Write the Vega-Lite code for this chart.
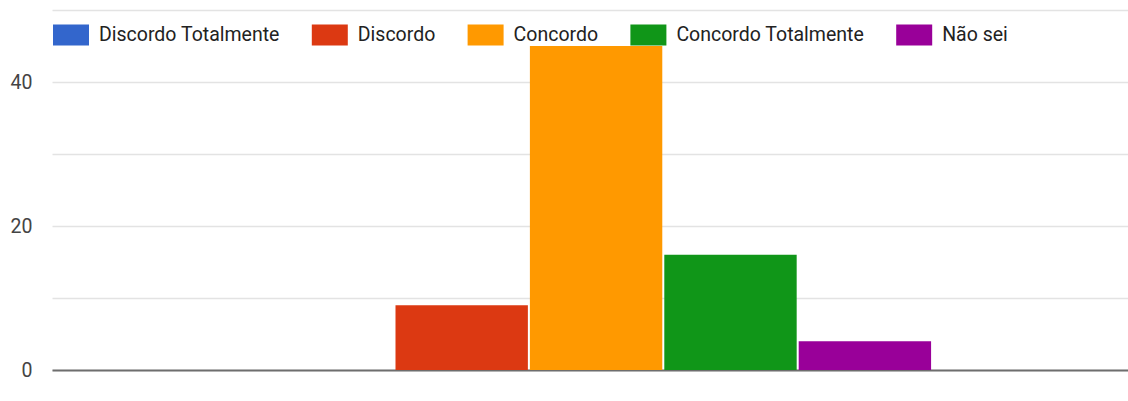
{
  "$schema": "https://vega.github.io/schema/vega-lite/v6.json",
  "autosize": {"type": "none"},
  "width": 1076,
  "height": 360,
  "padding": {"left": 52, "top": 10, "right": 0, "bottom": 31},
  "background": "white",
  "config": {
    "view": {"stroke": null},
    "font": "Roboto"
  },
  "data": {
    "values": [
      {"grupo": "total", "resposta": "Discordo Totalmente", "contagem": 0},
      {"grupo": "total", "resposta": "Discordo", "contagem": 9},
      {"grupo": "total", "resposta": "Concordo", "contagem": 45},
      {"grupo": "total", "resposta": "Concordo Totalmente", "contagem": 16},
      {"grupo": "total", "resposta": "Não sei", "contagem": 4}
    ]
  },
  "mark": {"type": "bar"},
  "encoding": {
    "x": {
      "field": "grupo",
      "type": "nominal",
      "scale": {"paddingInner": 0, "paddingOuter": 0.303, "align": 0.515},
      "axis": {
        "title": null,
        "labels": false,
        "ticks": false,
        "domainColor": "#6e6e6e",
        "domainWidth": 2,
        "grid": false
      }
    },
    "xOffset": {
      "field": "resposta",
      "type": "nominal",
      "sort": null,
      "scale": {"paddingInner": 0.015, "paddingOuter": 0}
    },
    "y": {
      "field": "contagem",
      "type": "quantitative",
      "scale": {"domain": [0, 50], "nice": false},
      "axis": {
        "title": null,
        "values": [0, 10, 20, 30, 40, 50],
        "labelExpr": "datum.value % 20 == 0 && datum.value < 50 ? datum.label : ''",
        "domain": false,
        "ticks": false,
        "labelPadding": 20,
        "labelFontSize": 19.5,
        "labelColor": "#444444",
        "gridColor": "#e3e3e3",
        "gridWidth": 1.5
      }
    },
    "color": {
      "field": "resposta",
      "type": "nominal",
      "sort": null,
      "scale": {
        "domain": ["Discordo Totalmente", "Discordo", "Concordo", "Concordo Totalmente", "Não sei"],
        "range": ["#3366cc", "#dc3912", "#ff9900", "#109618", "#990099"]
      },
      "legend": {
        "title": null,
        "orient": "none",
        "direction": "horizontal",
        "legendX": 1,
        "legendY": 6.7,
        "padding": 0,
        "symbolType": "M-1,-0.583H1V0.583H-1Z",
        "symbolSize": 1296,
        "symbolStrokeWidth": 0,
        "symbolOpacity": 1,
        "labelFontSize": 19.5,
        "labelColor": "#222222",
        "labelOffset": 10,
        "columnPadding": 31.8,
        "labelLimit": 400
      }
    }
  }
}
